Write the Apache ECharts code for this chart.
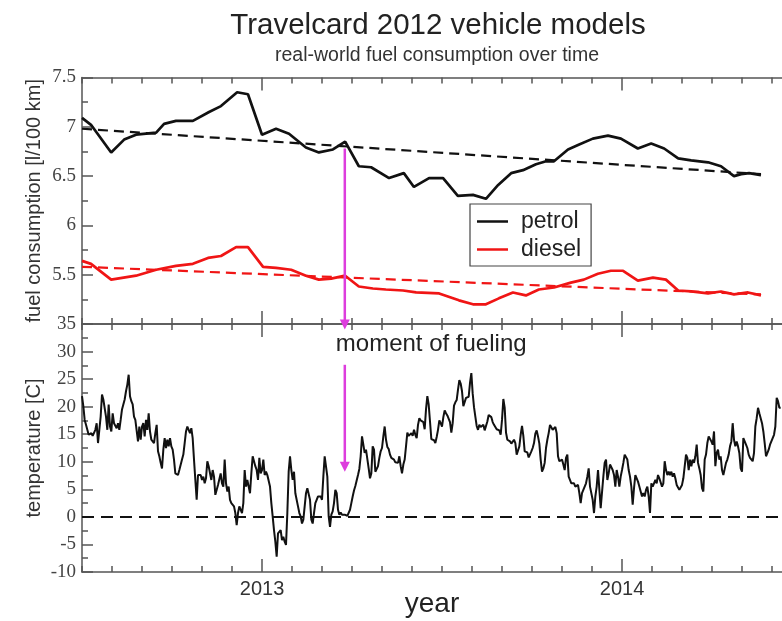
<!DOCTYPE html>
<html><head><meta charset="utf-8">
<script src="https://cdn.jsdelivr.net/npm/echarts@6/dist/echarts.min.js"></script>
<style>html,body{margin:0;padding:0;background:#fff}#c{width:782px;height:621px}</style>
</head><body><div id="c"></div>
<script>
// ---------- data (x in decimal years) ----------
const petrolYears = [2012.50,2012.525,2012.581,2012.617,2012.650,2012.706,2012.728,2012.761,2012.808,2012.853,2012.886,2012.931,2012.961,2013.000,2013.039,2013.075,2013.122,2013.158,2013.197,2013.231,2013.269,2013.303,2013.353,2013.394,2013.422,2013.464,2013.503,2013.544,2013.586,2013.622,2013.656,2013.692,2013.725,2013.761,2013.789,2013.811,2013.850,2013.881,2013.919,2013.961,2013.997,2014.044,2014.081,2014.117,2014.156,2014.192,2014.239,2014.275,2014.311,2014.331,2014.353,2014.386];
const petrolValues = [7.09,7.02,6.74,6.87,6.92,6.94,7.03,7.06,7.06,7.15,7.21,7.35,7.33,6.92,6.98,6.93,6.79,6.74,6.77,6.85,6.60,6.59,6.48,6.53,6.39,6.48,6.48,6.30,6.31,6.27,6.41,6.53,6.56,6.62,6.65,6.65,6.77,6.82,6.88,6.91,6.88,6.78,6.83,6.78,6.68,6.66,6.64,6.60,6.50,6.52,6.53,6.51];
const dieselYears = [2012.50,2012.525,2012.581,2012.650,2012.706,2012.761,2012.808,2012.850,2012.886,2012.928,2012.961,2013.003,2013.039,2013.081,2013.122,2013.158,2013.192,2013.231,2013.269,2013.308,2013.344,2013.392,2013.428,2013.492,2013.547,2013.586,2013.622,2013.658,2013.697,2013.733,2013.769,2013.811,2013.858,2013.894,2013.933,2013.969,2014.003,2014.044,2014.086,2014.122,2014.156,2014.192,2014.239,2014.275,2014.311,2014.350,2014.386];
const dieselValues = [5.64,5.61,5.45,5.49,5.55,5.59,5.61,5.67,5.69,5.78,5.78,5.58,5.57,5.55,5.49,5.45,5.46,5.49,5.38,5.36,5.35,5.34,5.32,5.31,5.24,5.20,5.20,5.26,5.32,5.29,5.35,5.37,5.42,5.45,5.51,5.54,5.54,5.44,5.47,5.45,5.34,5.33,5.31,5.33,5.30,5.32,5.29];
const trendYears = [2012.5, 2014.386];
const petrolTrendValues = [6.98, 6.52];
const dieselTrendValues = [5.58, 5.30];

// temperature readings on a regular grid, starting mid-2012, step 1/270 year
const tempStartYear = 2012.5;
const tempStepYears = 1 / 270;
const temperatureValues = [
21.9,20.1,17.6,16.7,15.8,14.9,15.1,15.2,14.7,14.9,
15.8,17.0,13.4,15.8,18.2,22.2,21.3,21.6,18.2,15.8,
20.4,16.4,15.5,18.8,17.0,16.7,16.1,17.0,15.8,17.6,
19.5,19.2,21.3,22.8,24.0,25.8,21.9,21.0,20.4,18.2,
17.6,17.9,13.7,16.4,14.0,16.4,17.0,14.6,17.6,15.8,
18.8,15.5,14.0,14.3,13.4,15.2,16.7,11.9,11.0,9.8,
8.8,12.2,14.3,12.5,14.0,12.8,14.3,12.8,12.2,10.4,
7.9,7.6,7.6,8.5,8.2,10.4,11.3,13.4,15.5,16.4,
16.7,15.2,16.1,14.3,10.4,6.7,3.1,7.6,7.3,7.6,
6.7,7.3,6.1,7.0,10.1,9.2,9.5,6.7,8.5,7.3,
4.0,4.3,5.8,5.5,7.9,6.1,5.5,10.4,6.1,4.6,
5.5,3.1,2.5,2.2,1.9,0.7,-1.5,0.7,1.9,1.6,
0.7,2.5,8.5,5.5,6.7,5.5,4.3,7.9,11.0,11.3,
9.2,8.5,6.7,10.7,7.9,8.5,10.4,7.6,8.2,7.6,
7.9,5.5,2.5,0.1,-2.4,-4.5,-7.2,-3.0,-3.3,-2.4,
-4.2,-3.6,-4.5,-5.1,0.7,8.2,11.0,8.5,6.7,8.2,
4.3,4.3,1.9,0.7,0.1,-1.2,-0.5,-0.5,4.3,5.2,
4.9,3.1,-0.5,
-1.2,0.7,2.5,3.1,3.7,4.0,3.7,3.1,7.3,11.0,
11.3,7.3,0.1,-1.8,0.4,1.0,2.5,4.9,4.3,1.3,
0.4,0.8,0.4,0.4,0.4,0.2,0.2,0.4,1.3,2.5,
3.7,4.8,5.6,6.6,7.6,8.7,11.0,14.6,14.3,11.6,
12.2,12.2,8.8,7.0,7.9,12.8,12.2,8.2,7.9,9.2,
10.7,11.9,12.5,14.6,16.4,14.0,12.7,12.3,11.3,10.7,
10.7,10.4,9.9,9.6,9.8,11.0,9.2,7.9,9.5,10.4,
12.8,15.3,14.7,14.5,15.2,14.7,15.8,14.9,14.3,16.7,
17.9,17.5,17.8,17.2,15.9,19.5,21.9,20.4,17.3,14.1,
14.3,13.9,13.4,14.5,15.8,17.5,17.0,16.4,18.1,19.3,
18.8,18.4,18.2,17.2,15.3,17.0,20.2,20.8,21.2,23.1,
24.8,24.2,22.8,20.1,19.8,21.6,21.4,21.8,24.3,26.1,
22.4,19.9,18.2,16.5,15.8,16.7,16.3,16.1,16.7,15.7,
15.7,17.3,18.5,18.4,18.1,17.2,16.7,16.9,15.9,15.7,
15.7,14.9,17.6,21.4,19.8,15.3,14.0,14.3,13.7,13.3,
13.3,14.0,13.4,11.3,11.3,12.8,14.9,16.5,14.7,11.9,
11.6,11.7,10.8,11.0,11.9,12.5,13.4,15.1,15.7,14.6,
13.3,10.4,8.2,8.8,9.8,
12.5,14.0,15.2,16.7,17.0,15.8,16.1,16.3,15.2,11.0,
10.1,10.4,10.4,9.5,8.5,10.7,11.3,7.3,7.6,6.1,
5.8,6.1,5.5,5.2,5.8,4.3,2.5,4.3,4.9,5.5,
6.1,7.3,8.8,5.5,5.2,3.1,0.7,3.7,5.5,8.5,
8.8,1.6,1.9,7.3,9.8,10.4,6.7,7.9,9.5,9.8,
8.5,7.6,5.5,8.5,7.3,5.5,7.3,8.5,9.8,11.3,
11.3,10.4,8.5,7.3,5.5,2.2,5.2,7.6,7.3,6.4,
5.5,4.6,3.7,4.3,3.7,4.9,5.5,3.7,0.7,6.1,
5.5,6.1,6.7,6.1,7.6,7.0,6.7,5.5,6.1,10.1,
8.5,7.6,8.2,7.6,8.2,7.3,7.9,7.0,5.8,5.5,
4.9,5.2,5.8,7.0,7.3,11.3,10.7,8.5,10.4,9.2,
10.4,9.8,11.0,13.1,9.8,8.8,7.6,5.2,4.6,10.4,
11.3,13.4,14.6,14.9,13.7,13.1,15.5,9.2,11.6,12.2,
10.4,11.0,8.5,7.6,7.3,9.8,10.4,11.3,12.8,13.7,
17.0,14.0,12.8,13.7,12.8,11.6,8.8,8.2,14.3,13.7,
13.1,12.5,11.3,10.7,10.4,10.1,11.6,16.4,17.9,19.8,
18.8,18.5,17.0,15.5,13.4,11.0,11.0,12.2,13.1,13.4,
14.3,14.9,16.4,21.6,21.0,19.8,19.8
];

const fuelingYear = 2013.23;
const fuelingArrowFuelStart = 6.78;   // fuel panel start of arrow
const fuelingArrowTempEnd1 = 34.0;    // tip of first arrow (temp panel)
const fuelingArrowTempStart2 = 27.6;
const fuelingArrowTempEnd2 = 8.2;
const fuelingLabelPos = [2013.205, 31.3];
const yearLabels = [2013, 2014];
// visible x range: the picture is cut on the right, mid-2012 .. ~mid-2014
const xMin = 2012.5, xMax = 2014.4444;

// ---------- build ----------
const zip = (xs, ys) => xs.map((x, i) => [x, ys[i]]);
const monthTicks = [];
for (let k = 0; xMin + k / 12 <= xMax; k++) monthTicks.push(xMin + k / 12);
const tempData = temperatureValues.map((v, i) => [tempStartYear + i * tempStepYears, v]);

const axisColor = '#555';
const labelFont = 'Liberation Serif';
const sansFont = 'Liberation Sans';

function xAx(grid, pos, major, labels) {
  return {
    type: 'value', gridIndex: grid, position: pos, min: xMin, max: xMax,
    axisLine: { show: !major, onZero: false, lineStyle: { color: axisColor, width: 1.5 } },
    axisTick: { show: true, inside: true, length: major ? 13 : 6, customValues: major ? yearLabels : monthTicks,
      lineStyle: { color: axisColor, width: 1.5 } },
    axisLabel: labels ? { show: true, customValues: yearLabels, formatter: v => String(Math.round(v)),
      fontFamily: sansFont, fontSize: 20, color: '#333', margin: 7 } : { show: false },
    splitLine: { show: false }
  };
}

const xAxes = [
  xAx(0, 'bottom', false, false), xAx(0, 'top', false, false),
  xAx(0, 'bottom', true, false), xAx(0, 'top', true, false),
  Object.assign(xAx(1, 'bottom', false, true), {
    name: 'year', nameLocation: 'middle', nameGap: 18, nameMoveOverlap: false,
    nameTextStyle: { fontFamily: sansFont, fontSize: 28, color: '#222' }
  }),
  xAx(1, 'top', false, false),
  xAx(1, 'bottom', true, false), xAx(1, 'top', true, false)
];

const yAxes = [
  {
    type: 'value', gridIndex: 0, min: 5, max: 7.5, interval: 0.5,
    name: 'fuel consumption [l/100 km]', nameLocation: 'middle', nameGap: 38, nameMoveOverlap: false,
    nameTextStyle: { fontFamily: sansFont, fontSize: 20, color: '#333' },
    axisLine: { show: true, lineStyle: { color: axisColor, width: 1.5 } },
    axisTick: { inside: true, length: 11, lineStyle: { color: axisColor, width: 1.5 } },
    minorTick: { show: true, splitNumber: 2, length: 6, lineStyle: { color: axisColor, width: 1.5 } },
    axisLabel: { showMinLabel: false, fontFamily: labelFont, fontSize: 19, color: '#444', margin: 6 },
    splitLine: { show: false }
  },
  {
    type: 'value', gridIndex: 1, min: -10, max: 35, interval: 5,
    name: 'temperature [C]', nameLocation: 'middle', nameGap: 38, nameMoveOverlap: false,
    nameTextStyle: { fontFamily: sansFont, fontSize: 20, color: '#333' },
    axisLine: { show: true, lineStyle: { color: axisColor, width: 1.5 } },
    axisTick: { inside: true, length: 11, lineStyle: { color: axisColor, width: 1.5 } },
    minorTick: { show: true, splitNumber: 2, length: 6, lineStyle: { color: axisColor, width: 1.5 } },
    axisLabel: { fontFamily: labelFont, fontSize: 19, color: '#444', margin: 6 },
    splitLine: { show: false }
  }
];

const red = '#f01515';
const option = {
  animation: false,
  backgroundColor: '#fff',
  title: [
    { text: 'Travelcard 2012 vehicle models', left: 433, top: 6, textAlign: 'center',
      textStyle: { fontFamily: sansFont, fontSize: 29.5, fontWeight: 'normal', color: '#222' } },
    { text: 'real-world fuel consumption over time', left: 432, top: 41, textAlign: 'center',
      textStyle: { fontFamily: sansFont, fontSize: 19.5, fontWeight: 'normal', color: '#333' } }
  ],
  legend: {
    data: [{ name: 'petrol', icon: 'rect' }, { name: 'diesel', icon: 'rect' }],
    orient: 'vertical', left: 470, top: 204,
    itemWidth: 31, itemHeight: 2.5, itemGap: 5,
    padding: [6, 10, 5, 7],
    borderColor: '#444', borderWidth: 1.2, borderRadius: 0,
    textStyle: { fontFamily: sansFont, fontSize: 23, color: '#222', padding: [0, 0, 0, 8] }
  },
  grid: [
    { left: 82, top: 77.5, right: 0, height: 246.5, outerBoundsMode: 'none', containLabel: false },
    { left: 82, top: 324, right: 0, height: 248, outerBoundsMode: 'none', containLabel: false }
  ],
  xAxis: xAxes,
  yAxis: yAxes,
  series: [
    { name: 'petrol', type: 'line', xAxisIndex: 0, yAxisIndex: 0, data: zip(petrolYears, petrolValues),
      symbol: 'none', lineStyle: { color: '#111', width: 2.7 }, itemStyle: { color: '#111' }, z: 5 },
    { name: 'diesel', type: 'line', xAxisIndex: 0, yAxisIndex: 0, data: zip(dieselYears, dieselValues),
      symbol: 'none', lineStyle: { color: red, width: 2.7 }, itemStyle: { color: red }, z: 5 },
    { name: 'petrol trend', type: 'line', xAxisIndex: 0, yAxisIndex: 0, data: zip(trendYears, petrolTrendValues),
      symbol: 'none', lineStyle: { color: '#111', width: 2.2, type: [10, 6] }, z: 4 },
    { name: 'diesel trend', type: 'line', xAxisIndex: 0, yAxisIndex: 0, data: zip(trendYears, dieselTrendValues),
      symbol: 'none', lineStyle: { color: red, width: 2.2, type: [10, 6] }, z: 4 },
    { name: 'temperature', type: 'line', xAxisIndex: 4, yAxisIndex: 1, data: tempData,
      symbol: 'none', lineStyle: { color: '#111', width: 2 }, z: 5,
      markLine: { silent: true, symbol: ['none', 'none'], label: { show: false },
        lineStyle: { color: '#111', width: 2, type: [12, 7] }, data: [{ yAxis: 0 }] } }
  ]
};

const chart = echarts.init(document.getElementById('c'), null, { renderer: 'canvas', width: 782, height: 621 });
chart.setOption(option);

// fueling annotation (positions via the chart's own scales)
const mag = '#dd3ddd';
const a1s = chart.convertToPixel({ gridIndex: 0 }, [fuelingYear, fuelingArrowFuelStart]);
const a1e = chart.convertToPixel({ gridIndex: 1 }, [fuelingYear, fuelingArrowTempEnd1]);
const a2s = chart.convertToPixel({ gridIndex: 1 }, [fuelingYear, fuelingArrowTempStart2]);
const a2e = chart.convertToPixel({ gridIndex: 1 }, [fuelingYear, fuelingArrowTempEnd2]);
const lp = chart.convertToPixel({ gridIndex: 1 }, fuelingLabelPos);
function arrow(s, e) {
  const h = 10, w = 5;
  return [
    { type: 'line', shape: { x1: s[0], y1: s[1], x2: e[0], y2: e[1] - h + 1 }, style: { stroke: mag, lineWidth: 2.5 }, z: 100 },
    { type: 'polygon', shape: { points: [[e[0] - w, e[1] - h], [e[0] + w, e[1] - h], [e[0], e[1]]] }, style: { fill: mag }, z: 100 }
  ];
}
chart.setOption({
  graphic: [
    ...arrow(a1s, a1e), ...arrow(a2s, a2e),
    { type: 'text', x: lp[0], y: lp[1], z: 100,
      style: { text: 'moment of fueling', fill: '#222', font: '24px "Liberation Sans"', textAlign: 'left', textVerticalAlign: 'middle' } }
  ]
});
</script>
</body></html>
